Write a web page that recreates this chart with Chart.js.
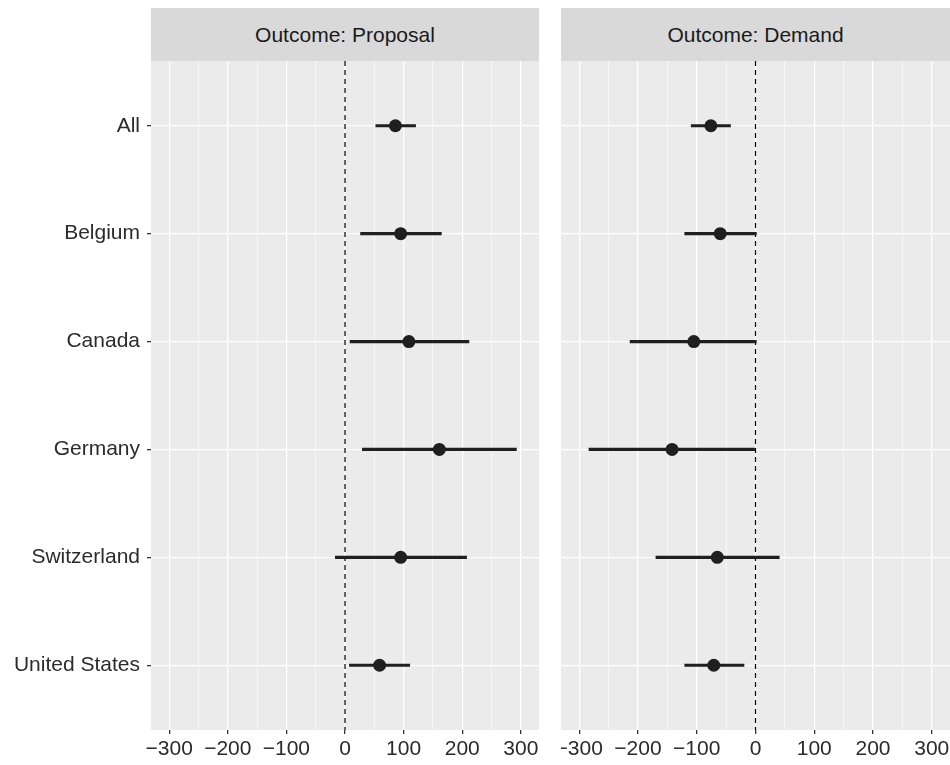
<!DOCTYPE html>
<html>
<head>
<meta charset="utf-8">
<script src="https://cdn.jsdelivr.net/npm/chart.js@4/dist/chart.umd.min.js"></script>
<style>
  html, body { margin: 0; padding: 0; background: #fff; overflow: hidden; }
  body { width: 950px; height: 765px; position: relative; font-family: "Liberation Sans", Arial, sans-serif; }
  .strip { position: absolute; top: 8px; height: 53px; line-height: 53px; background: #d9d9d9; color: #1a1a1a; font-size: 21px; text-align: center; }
  .panel { position: absolute; top: 61px; height: 704px; }
</style>
</head>
<body>
<div class="strip" style="left:151px; width:388px;">Outcome: Proposal</div>
<div class="strip" style="left:561px; width:389px;">Outcome: Demand</div>
<div class="panel" style="left:0; width:539px;"><canvas id="proposalChart" width="539" height="704"></canvas></div>
<div class="panel" style="left:561px; width:389px;"><canvas id="demandChart" width="389" height="704"></canvas></div>
<script>
// categories (top to bottom)
const countries = ["All", "Belgium", "Canada", "Germany", "Switzerland", "United States"];

// Outcome: Proposal
const proposalEst = [86, 95, 109, 161, 95, 59];
const proposalLow = [52, 26, 8, 29, -17, 7];
const proposalHigh = [121, 165, 212, 293, 208, 111];

// Outcome: Demand
const demandEst = [-76, -60, -105, -142, -65, -71];
const demandLow = [-110, -121, -214, -284, -170, -121];
const demandHigh = [-42, 2, 2, -1, 41, -19];

// x ticks (every 50 gets a grid line, labels only on the hundreds)
const xTicks = [-300, -250, -200, -150, -100, -50, 0, 50, 100, 150, 200, 250, 300];
const xLabelled = [-300, -200, -100, 0, 100, 200, 300];

Chart.defaults.font.family = '"Liberation Sans", Arial, sans-serif';
Chart.defaults.font.size = 21;
Chart.defaults.color = "#2b2b2b";

const panelBg = {
  id: "panelBg",
  beforeDraw(chart) {
    const { ctx, chartArea } = chart;
    ctx.save();
    ctx.fillStyle = "#ebebeb";
    ctx.fillRect(chartArea.left, chartArea.top, chartArea.right - chartArea.left, chartArea.bottom - chartArea.top);
    ctx.restore();
  },
};

function noPadding(scale) {
  scale.paddingTop = 0;
  scale.paddingBottom = 0;
  scale.paddingLeft = 0;
  scale.paddingRight = 0;
}

function makePanel(id, est, low, high, showY) {
  const datasets = [];

  // point estimates
  datasets.push({
    type: "scatter",
    data: est.map((v, i) => ({ x: v, y: i })),
    pointRadius: 6.5,
    pointBackgroundColor: "#1f1f1f",
    pointBorderWidth: 0,
    order: 0,
  });

  // confidence intervals
  countries.forEach((_, i) => {
    datasets.push({
      type: "line",
      data: [{ x: low[i], y: i }, { x: high[i], y: i }],
      borderColor: "#1f1f1f",
      borderWidth: 3.2,
      pointRadius: 0,
      order: 1,
    });
  });

  // zero reference line
  datasets.push({
    type: "line",
    data: [{ x: 0, y: -0.6 }, { x: 0, y: countries.length - 0.4 }],
    borderColor: "#000",
    borderWidth: 1.2,
    borderDash: [5, 4],
    pointRadius: 0,
    order: 2,
  });

  return new Chart(document.getElementById(id), {
    data: { datasets: datasets },
    plugins: [panelBg],
    options: {
      responsive: false,
      animation: false,
      layout: { padding: 0, autoPadding: false },
      plugins: { legend: { display: false }, tooltip: { enabled: false } },
      scales: {
        x: {
          type: "linear",
          min: -331,
          max: 331,
          afterBuildTicks: (scale) => {
            scale.ticks = xTicks.map((v) => ({ value: v }));
          },
          afterFit: (scale) => {
            scale.height = 35;
            noPadding(scale);
          },
          ticks: {
            autoSkip: false,
            maxRotation: 0,
            padding: 3,
            callback: (v) => (xLabelled.includes(v) ? String(v).replace("-", "\u2212") : ""),
          },
          grid: {
            color: "#ffffff",
            lineWidth: (c) => (c.tick && xLabelled.includes(c.tick.value) ? 1.3 : 0.6),
            tickColor: (c) => (c.tick && xLabelled.includes(c.tick.value) ? "#333" : "rgba(0,0,0,0)"),
            tickLength: 4,
          },
          border: { display: false },
        },
        y: {
          type: "linear",
          reverse: true,
          min: -0.6,
          max: countries.length - 0.4,
          afterBuildTicks: (scale) => {
            scale.ticks = countries.map((_, i) => ({ value: i }));
          },
          afterFit: (scale) => {
            scale.width = showY ? 151 : 0;
            noPadding(scale);
          },
          ticks: {
            display: showY,
            padding: 7,
            callback: (v) => countries[v],
          },
          grid: {
            color: "#ffffff",
            lineWidth: 1.3,
            drawTicks: showY,
            tickColor: "#333",
            tickLength: 4,
          },
          border: { display: false },
        },
      },
    },
  });
}

makePanel("proposalChart", proposalEst, proposalLow, proposalHigh, true);
makePanel("demandChart", demandEst, demandLow, demandHigh, false);
</script>
</body>
</html>
